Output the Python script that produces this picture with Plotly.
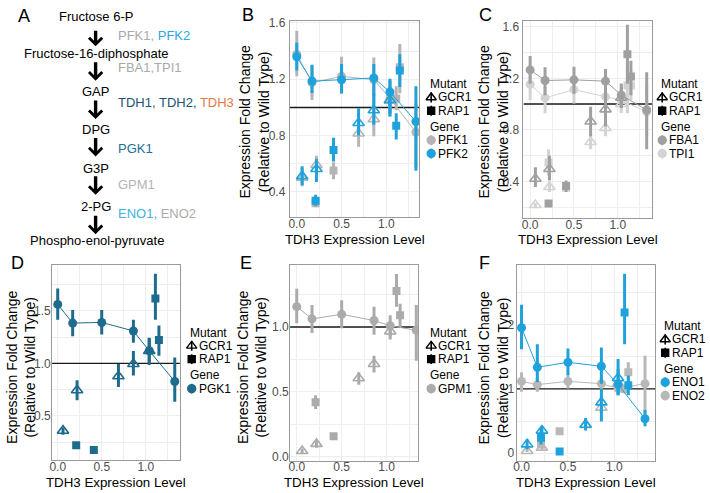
import plotly.graph_objects as go

W, H = 710, 493

# ---------------- data ----------------
# TDH3 expression level of each strain class (shared x positions)
PROMOTER_X = [0.0, 0.17, 0.50, 0.86, 1.04, 1.33]
GCR1_X = [0.06, 0.22, 0.69, 0.86, 1.04]
RAP1_X = [0.21, 0.41, 1.11, 1.15]
REF_LEVEL = 1.0

# Panel B
PFK1_PROM    = [1.378, 1.176, 1.221, 1.197, 1.064, 0.824]
PFK1_PROM_LO = [1.221, 1.052, 1.099, 1.029, 0.936, 0.568]
PFK1_PROM_HI = [1.545, 1.297, 1.360, 1.355, 1.192, 1.029]
PFK1_GCR1    = [0.500, 0.591, 0.815, 0.917, 1.050]
PFK1_GCR1_LO = [0.440, 0.493, 0.720, 0.796, 0.960]
PFK1_GCR1_HI = [0.570, 0.656, 0.900, 1.030, 1.190]
PFK1_RAP1    = [0.320, 0.552, 1.064, 1.285]
PFK1_RAP1_LO = [0.290, 0.490, 0.980, 1.100]
PFK1_RAP1_HI = [0.350, 0.610, 1.150, 1.450]

PFK2_PROM    = [1.360, 1.187, 1.197, 1.210, 1.110, 0.900]
PFK2_PROM_LO = [1.262, 1.103, 1.099, 1.087, 0.936, 0.550]
PFK2_PROM_HI = [1.460, 1.304, 1.308, 1.308, 1.204, 1.150]
PFK2_GCR1    = [0.512, 0.563, 0.889, 0.980, 1.052]
PFK2_GCR1_LO = [0.447, 0.470, 0.800, 0.877, 0.959]
PFK2_GCR1_HI = [0.582, 0.633, 0.994, 1.098, 1.145]
PFK2_RAP1    = [0.337, 0.698, 0.870, 1.262]
PFK2_RAP1_LO = [0.302, 0.615, 0.773, 1.145]
PFK2_RAP1_HI = [0.380, 0.784, 0.959, 1.378]

# Panel C
FBA1_PROM    = [1.265, 1.183, 1.188, 1.178, 1.070, 0.954]
FBA1_PROM_LO = [1.158, 1.069, 1.081, 1.081, 0.980, 0.649]
FBA1_PROM_HI = [1.374, 1.285, 1.290, 1.272, 1.160, 1.247]
FBA1_GCR1    = [0.420, 0.496, 0.865, 0.959, 1.050]
FBA1_GCR1_LO = [0.356, 0.407, 0.750, 0.827, 0.970]
FBA1_GCR1_HI = [0.509, 0.598, 0.980, 1.094, 1.130]
FBA1_RAP1    = [0.228, 0.363, 1.387, 1.214]
FBA1_RAP1_LO = [0.203, 0.318, 1.158, 1.069]
FBA1_RAP1_HI = [0.253, 0.407, 1.616, 1.336]

TPI1_PROM    = [1.153, 1.048, 1.112, 1.056, 1.030, 0.940]
TPI1_PROM_LO = [1.030, 0.929, 1.005, 0.980, 0.960, 0.750]
TPI1_PROM_HI = [1.260, 1.132, 1.209, 1.132, 1.100, 1.150]
TPI1_GCR1    = [0.216, 0.356, 0.705, 0.814, 1.000]
TPI1_GCR1_LO = [0.200, 0.318, 0.649, 0.750, 0.930]
TPI1_GCR1_HI = [0.232, 0.394, 0.776, 0.903, 1.070]
TPI1_RAP1    = [0.547, 0.350, 1.145, 1.145]
TPI1_RAP1_LO = [0.445, 0.320, 0.929, 1.030]
TPI1_RAP1_HI = [0.649, 0.380, 1.360, 1.260]

# Panel D
PGK1_PROM    = [1.562, 1.384, 1.390, 1.309, 1.120, 0.828]
PGK1_PROM_LO = [1.416, 1.259, 1.275, 1.197, 1.000, 0.634]
PGK1_PROM_HI = [1.713, 1.509, 1.509, 1.416, 1.240, 1.056]
PGK1_GCR1    = [0.359, 0.744, 0.878, 0.994, 1.119]
PGK1_GCR1_LO = [0.320, 0.650, 0.775, 0.884, 0.984]
PGK1_GCR1_HI = [0.390, 0.840, 0.994, 1.119, 1.244]
PGK1_RAP1    = [0.219, 0.175, 1.619, 1.222]
PGK1_RAP1_LO = [0.200, 0.160, 1.416, 1.072]
PGK1_RAP1_HI = [0.240, 0.190, 1.853, 1.362]

# Panel E
GPM1_PROM    = [1.157, 1.063, 1.098, 1.050, 1.010, 0.975]
GPM1_PROM_LO = [1.030, 0.955, 0.990, 0.940, 0.930, 0.740]
GPM1_PROM_HI = [1.295, 1.169, 1.207, 1.157, 1.090, 1.169]
GPM1_GCR1    = [0.045, 0.100, 0.606, 0.715, 0.967]
GPM1_GCR1_LO = [0.025, 0.070, 0.556, 0.650, 0.904]
GPM1_GCR1_HI = [0.065, 0.130, 0.652, 0.778, 1.018]
GPM1_RAP1    = [0.420, 0.159, 1.278, 1.090]
GPM1_RAP1_LO = [0.369, 0.145, 1.157, 1.000]
GPM1_RAP1_HI = [0.475, 0.173, 1.409, 1.180]

# Panel F
ENO1_PROM    = [1.950, 1.337, 1.413, 1.352, 1.070, 0.536]
ENO1_PROM_LO = [1.617, 1.107, 1.209, 1.082, 0.900, 0.418]
ENO1_PROM_HI = [2.306, 1.694, 1.628, 1.643, 1.310, 0.673]
ENO1_GCR1    = [0.138, 0.352, 0.444, 0.790, 1.168]
ENO1_GCR1_LO = [0.060, 0.265, 0.352, 0.495, 0.903]
ENO1_GCR1_HI = [0.214, 0.418, 0.546, 1.005, 1.464]
ENO1_RAP1    = [0.240, 0.026, 2.189, 1.056]
ENO1_RAP1_LO = [0.138, 0.010, 1.694, 0.903]
ENO1_RAP1_HI = [0.393, 0.040, 2.790, 1.210]

ENO2_PROM    = [1.117, 1.066, 1.117, 1.082, 1.005, 1.082]
ENO2_PROM_LO = [0.954, 0.954, 1.005, 0.970, 0.930, 0.622]
ENO2_PROM_HI = [1.260, 1.168, 1.210, 1.190, 1.080, 1.515]
ENO2_GCR1    = [0.036, 0.087, 0.440, 0.709, 1.080]
ENO2_GCR1_LO = [0.020, 0.060, 0.400, 0.610, 1.000]
ENO2_GCR1_HI = [0.060, 0.120, 0.480, 0.780, 1.150]
ENO2_RAP1    = [0.138, 0.342, 1.000, 1.260]
ENO2_RAP1_LO = [0.100, 0.310, 0.930, 1.107]
ENO2_RAP1_HI = [0.180, 0.380, 1.070, 1.413]

# Pathway (panel A)
METABOLITES = ["Fructose 6-P", "Fructose-16-diphosphate", "GAP", "DPG", "G3P",
               "2-PG", "Phospho-enol-pyruvate"]
ENZYME_STEPS = [
    [("PFK1, ", "#A9A9A9"), ("PFK2", "#2AA8DF")],
    [("FBA1,TPI1", "#A9A9A9")],
    [("TDH1, TDH2, ", "#1C5470"), ("TDH3", "#E5793F")],
    [("PGK1", "#236E95")],
    [("GPM1", "#B5B5B5")],
    [("ENO1, ", "#40B2E3"), ("ENO2", "#ABABAB")],
]

# ---------------- styling ----------------
FONT = "Liberation Sans, Arial, Helvetica, sans-serif"
BLUE = "#1FA2DC"
COL = {"PFK1": "#B5B5B5", "PFK2": BLUE, "FBA1": "#A0A0A0", "TPI1": "#D3D3D3",
       "PGK1": "#1E6B8E", "GPM1": "#ABABAB", "ENO1": BLUE, "ENO2": "#B8B8B8"}

GENES = {
    "PFK1": (PFK1_PROM, PFK1_PROM_LO, PFK1_PROM_HI, PFK1_GCR1, PFK1_GCR1_LO, PFK1_GCR1_HI, PFK1_RAP1, PFK1_RAP1_LO, PFK1_RAP1_HI),
    "PFK2": (PFK2_PROM, PFK2_PROM_LO, PFK2_PROM_HI, PFK2_GCR1, PFK2_GCR1_LO, PFK2_GCR1_HI, PFK2_RAP1, PFK2_RAP1_LO, PFK2_RAP1_HI),
    "FBA1": (FBA1_PROM, FBA1_PROM_LO, FBA1_PROM_HI, FBA1_GCR1, FBA1_GCR1_LO, FBA1_GCR1_HI, FBA1_RAP1, FBA1_RAP1_LO, FBA1_RAP1_HI),
    "TPI1": (TPI1_PROM, TPI1_PROM_LO, TPI1_PROM_HI, TPI1_GCR1, TPI1_GCR1_LO, TPI1_GCR1_HI, TPI1_RAP1, TPI1_RAP1_LO, TPI1_RAP1_HI),
    "PGK1": (PGK1_PROM, PGK1_PROM_LO, PGK1_PROM_HI, PGK1_GCR1, PGK1_GCR1_LO, PGK1_GCR1_HI, PGK1_RAP1, PGK1_RAP1_LO, PGK1_RAP1_HI),
    "GPM1": (GPM1_PROM, GPM1_PROM_LO, GPM1_PROM_HI, GPM1_GCR1, GPM1_GCR1_LO, GPM1_GCR1_HI, GPM1_RAP1, GPM1_RAP1_LO, GPM1_RAP1_HI),
    "ENO1": (ENO1_PROM, ENO1_PROM_LO, ENO1_PROM_HI, ENO1_GCR1, ENO1_GCR1_LO, ENO1_GCR1_HI, ENO1_RAP1, ENO1_RAP1_LO, ENO1_RAP1_HI),
    "ENO2": (ENO2_PROM, ENO2_PROM_LO, ENO2_PROM_HI, ENO2_GCR1, ENO2_GCR1_LO, ENO2_GCR1_HI, ENO2_RAP1, ENO2_RAP1_LO, ENO2_RAP1_HI),
}

# panel geometry in pixels: (x0, x1, y0(top), y1(bottom)), axis ranges, ticks
PANELS = [
    dict(letter="B", ax="", dom=(288, 418, 16, 216), xr=(-0.078, 1.367), yr=(0.218, 1.616),
         ytick0=0.4, ydt=0.4, yfmt=".1f", legend_genes=["PFK1", "PFK2"], draw=["PFK1", "PFK2"],
         leg=(426.5, 430, 435, 80.5), ytitle_x=252.5, ytitle_y=118, xtitle_y=238.5, letter_xy=(246, 10),
         ystand=1),
    dict(letter="C", ax="2", dom=(522.7, 651.7, 16, 216.7), xr=(-0.076, 1.39), yr=(0.114, 1.647),
         ytick0=0.4, ydt=0.4, yfmt=".1f", legend_genes=["FBA1", "TPI1"], draw=["TPI1", "FBA1"],
         leg=(658.5, 662, 667, 80.5), ytitle_x=492.5, ytitle_y=118, xtitle_y=238.5, letter_xy=(485, 10),
         ystand=1),
    dict(letter="D", ax="3", dom=(49.3, 177.7, 264, 463), xr=(-0.064, 1.389), yr=(0.075, 1.94),
         ytick0=0.5, ydt=0.5, yfmt=".1f", legend_genes=["PGK1"], draw=["PGK1"],
         leg=(186, 189.5, 194.5, 333), ytitle_x=18, ytitle_y=368, xtitle_y=485.5, letter_xy=(15, 262),
         ystand=-2),
    dict(letter="E", ax="4", dom=(288.3, 417, 264, 463.3), xr=(-0.074, 1.352), yr=(-0.03, 1.48),
         ytick0=0.0, ydt=0.5, yfmt=".1f", legend_genes=["GPM1"], draw=["GPM1"],
         leg=(426.5, 430, 435, 333), ytitle_x=250, ytitle_y=368, xtitle_y=485, letter_xy=(244, 262),
         ystand=-2),
    dict(letter="F", ax="5", dom=(515.7, 655, 264, 463.3), xr=(-0.054, 1.44), yr=(-0.117, 2.93),
         ytick0=0.0, ydt=1.0, yfmt=".0f", legend_genes=["ENO1", "ENO2"], draw=["ENO2", "ENO1"],
         leg=(661.5, 665, 670, 326.5), ytitle_x=492.5, ytitle_y=368, xtitle_y=485.5, letter_xy=(484, 262),
         ystand=-1),
]
LEG_ROWS = [0, 13.5, 27, 43.5, 57, 70.5]
LEG_FONT = 12
X_TICK_STANDOFF = -5


def px(x):
    return x / W


def py(y):
    return 1 - y / H


def grid_ticks(lo, hi, t0, dt, fmt):
    """major ticks with labels, plus unlabeled half-step gridlines"""
    vals, text = [], []
    k = 0
    v = t0
    step = dt / 2
    while v - step >= lo:
        v -= step
        k -= 1
    while v <= hi + 1e-9:
        vals.append(round(v, 6))
        text.append(format(v, fmt) if k % 2 == 0 else "")
        v += step
        k += 1
    return vals, text


fig = go.Figure()
annotations = []
layout = dict(width=W, height=H, margin=dict(l=0, r=0, t=0, b=0),
              paper_bgcolor="white", plot_bgcolor="rgba(0,0,0,0)", showlegend=False,
              font=dict(family=FONT, size=13, color="black"))


def err(v, lo, hi, color):
    return dict(type="data", symmetric=False,
                array=[h - m for m, h in zip(v, hi)],
                arrayminus=[m - l for m, l in zip(v, lo)],
                color=color, thickness=3, width=0)


for p in PANELS:
    xa, ya = "x" + p["ax"], "y" + p["ax"]
    x0, x1, yt, yb = p["dom"]
    axis_base = dict(showline=True, mirror=True, linecolor="#9A9A9A", linewidth=1,
                     showgrid=True, gridcolor="#EEEEEE", gridwidth=1, zeroline=False,
                     ticks="", tickfont=dict(family=FONT, size=12, color="#4D4D4D"))
    xv, xt = grid_ticks(p["xr"][0], p["xr"][1], 0.0, 0.5, ".1f")
    yv, yt_ = grid_ticks(p["yr"][0], p["yr"][1], p["ytick0"], p["ydt"], p["yfmt"])
    layout["xaxis" + p["ax"]] = dict(axis_base, domain=[px(x0), px(x1)], range=list(p["xr"]),
                                     anchor=ya, tickmode="array", tickvals=xv, ticktext=xt,
                                     ticklabelstandoff=X_TICK_STANDOFF)
    layout["yaxis" + p["ax"]] = dict(axis_base, domain=[py(yb), py(yt)], range=list(p["yr"]),
                                     anchor=xa, tickmode="array", tickvals=yv, ticktext=yt_,
                                     ticklabelstandoff=p["ystand"])
    # reference line at fold change 1 (spans the full x range of the panel)
    fig.add_trace(go.Scatter(x=list(p["xr"]), y=[REF_LEVEL, REF_LEVEL], xaxis=xa, yaxis=ya,
                             mode="lines", line=dict(color="#1A1A1A", width=1.4),
                             hoverinfo="skip", name="reference"))
    for g in p["draw"]:
        c = COL[g]
        prom, plo, phi, gcr, glo, ghi, rap, rlo, rhi = GENES[g]
        fig.add_trace(go.Scatter(x=PROMOTER_X, y=prom, xaxis=xa, yaxis=ya, mode="lines+markers",
                                 line=dict(color=c, width=1), marker=dict(symbol="circle", size=9, color=c),
                                 error_y=err(prom, plo, phi, c), hoverinfo="skip", name=g + " promoter"))
        fig.add_trace(go.Scatter(x=GCR1_X, y=gcr, xaxis=xa, yaxis=ya, mode="markers",
                                 marker=dict(symbol="triangle-up-open", size=10, color=c, line=dict(width=1.6, color=c)),
                                 error_y=err(gcr, glo, ghi, c), hoverinfo="skip", name=g + " GCR1"))
        fig.add_trace(go.Scatter(x=RAP1_X, y=rap, xaxis=xa, yaxis=ya, mode="markers",
                                 marker=dict(symbol="square", size=8, color=c),
                                 error_y=err(rap, rlo, rhi, c), hoverinfo="skip", name=g + " RAP1"))
    # panel letter
    lx, ly = p["letter_xy"]
    annotations.append(dict(text=p["letter"], x=px(lx), y=py(ly), xref="paper", yref="paper",
                            showarrow=False, xanchor="center", yanchor="middle", font=dict(size=18)))
    # axis titles
    annotations.append(dict(text="Expression Fold Change<br>(Relative to Wild Type)", textangle=-90,
                            x=px(p["ytitle_x"]), y=py(p["ytitle_y"]), xref="paper", yref="paper",
                            showarrow=False, xanchor="center", yanchor="middle", font=dict(size=14)))
    annotations.append(dict(text="TDH3 Expression Level", x=px((x0 + x1) / 2), y=py(p["xtitle_y"]),
                            xref="paper", yref="paper", showarrow=False, xanchor="center",
                            yanchor="middle", font=dict(size=13.3)))
    # legend (manual, compact like ggplot)
    tx, sx, txt_x, base = p["leg"]
    rows = [("title", "Mutant", None), ("tri", "GCR1", "black"), ("sq", "RAP1", "black"),
            ("title", "Gene", None)] + [("circ", g, COL[g]) for g in p["legend_genes"]]
    for (kind, label, c), off in zip(rows, LEG_ROWS):
        yy = base + off
        if kind == "title":
            annotations.append(dict(text=label, x=px(tx), y=py(yy), xref="paper", yref="paper",
                                    showarrow=False, xanchor="left", yanchor="middle",
                                    font=dict(size=LEG_FONT)))
            continue
        annotations.append(dict(text=label, x=px(txt_x), y=py(yy), xref="paper", yref="paper",
                                showarrow=False, xanchor="left", yanchor="middle",
                                font=dict(size=LEG_FONT)))
        sym = {"tri": "triangle-up-open", "sq": "square", "circ": "circle"}[kind]
        size = {"tri": 9, "sq": 7, "circ": 8}[kind]
        fig.add_trace(go.Scatter(x=[sx], y=[yy], xaxis="x6", yaxis="y6", mode="markers",
                                 marker=dict(symbol=sym, size=size, color=c, line=dict(width=1.4, color=c)),
                                 error_y=dict(type="constant", value=5, color=c, thickness=1.6, width=0),
                                 hoverinfo="skip", name="key " + label))

# overlay pixel axis for legend keys
layout["xaxis6"] = dict(domain=[0, 1], range=[0, W], visible=False, anchor="y6", fixedrange=True)
layout["yaxis6"] = dict(domain=[0, 1], range=[H, 0], visible=False, anchor="x6", fixedrange=True)

# ---------------- panel A: pathway ----------------
annotations.append(dict(text="A", x=px(21), y=py(11), xref="paper", yref="paper", showarrow=False,
                        xanchor="center", yanchor="middle", font=dict(size=18)))
MET_Y = [12, 49.5, 88, 127, 166, 205, 239]
ARROWS = [(25, 42), (57, 77), (96, 116), (134, 154), (173, 193), (213, 233)]
ENZ_Y = [31, 64, 99, 146, 182, 212]
PATH_X = 93
for name, yy in zip(METABOLITES, MET_Y):
    annotations.append(dict(text=name, x=px(PATH_X + (1 if len(name) > 12 else 0)), y=py(yy),
                            xref="paper", yref="paper", showarrow=False, xanchor="center",
                            yanchor="middle", font=dict(size=13, color="black")))
for (t0, t1) in ARROWS:
    annotations.append(dict(text="", x=px(PATH_X), y=py(t1), xref="paper", yref="paper",
                            ax=0, ay=-(t1 - t0), showarrow=True, arrowhead=4, arrowsize=0.75,
                            arrowwidth=3.4, arrowcolor="black", standoff=0))
for parts, yy in zip(ENZYME_STEPS, ENZ_Y):
    txt = "".join(f'<span style="color:{c}">{s}</span>' for s, c in parts)
    annotations.append(dict(text=txt, x=px(113), y=py(yy), xref="paper", yref="paper",
                            showarrow=False, xanchor="left", yanchor="middle", font=dict(size=13)))

layout["annotations"] = annotations
fig.update_layout(**layout)
fig.write_html("out.html", config={"displayModeBar": False, "staticPlot": True},
               post_script="document.body.style.margin='0px';document.body.style.overflow='hidden';")
